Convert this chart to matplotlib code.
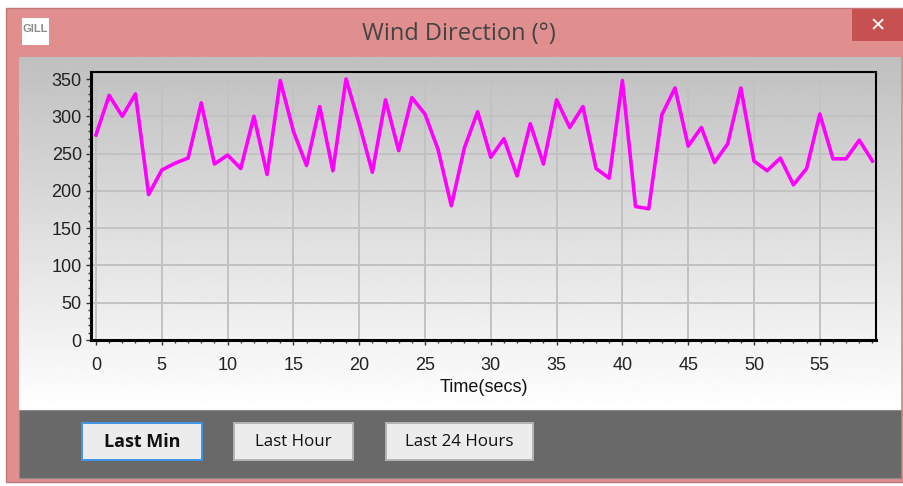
import matplotlib
matplotlib.use("Agg")
import matplotlib.pyplot as plt
from matplotlib.patches import Rectangle
import numpy as np

W, H = 904, 486

seconds = list(range(60))
direction = [275, 328, 300, 330, 195, 228, 237, 244, 318, 236,
             248, 230, 300, 222, 348, 280, 234, 313, 227, 350,
             290, 225, 322, 254, 325, 303, 255, 180, 258, 306,
             245, 270, 220, 290, 236, 322, 285, 313, 230, 217,
             348, 179, 176, 302, 338, 260, 285, 238, 263, 338,
             240, 227, 244, 208, 230, 303, 243, 243, 268, 240]
x_ticks = list(range(0, 60, 5))
y_ticks = list(range(0, 351, 50))
button_labels = ["Last Min", "Last Hour", "Last 24 Hours"]

plt.rcParams["font.family"] = ["Liberation Sans", "DejaVu Sans"]

fig = plt.figure(figsize=(W / 100, H / 100), dpi=100, facecolor="white")

# window chrome, drawn in pixel coordinates
bg = fig.add_axes([0, 0, 1, 1], zorder=0)
bg.set_xlim(0, W)
bg.set_ylim(H, 0)
bg.axis("off")
bg.add_patch(Rectangle((6, 8), 898, 474, fc="#e08e8e", ec="#c07878", lw=1))
bg.add_patch(Rectangle((852, 9), 51, 32, fc="#c75050", ec="none"))
bg.text(878, 26, "\u2715", color="white", fontsize=14, ha="center", va="center",
        family=["DejaVu Sans"], fontweight="bold")
bg.text(459, 34, "Wind Direction (\u00b0)", color="#444444", fontsize=17, ha="center",
        va="center", family=["Open Sans"])

# little icon in the title bar
bg.add_patch(Rectangle((22, 18), 27, 27, fc="white", ec="none"))
bg.text(35.5, 29, "GILL", color="#8c8c8c", fontsize=8, fontweight="bold", ha="center", va="center")

# gradient panel behind the chart
gradient = np.linspace(0.75, 1.0, 256).reshape(-1, 1)
bg.imshow(gradient, cmap="gray", vmin=0, vmax=1, extent=(19, 901, 410, 58), aspect="auto", zorder=1)
bg.set_xlim(0, W)
bg.set_ylim(H, 0)

# button bar
bg.add_patch(Rectangle((19, 410), 882, 68, fc="#696969", ec="#8a8a8a", lw=0.8, zorder=2))
buttons = [(82, 120, "#3f95e6"), (234, 119, "#b5b5b5"), (386, 147, "#b5b5b5")]
sizes = [13, 12.2, 12.2]
for (bx, bw, edge), label, bold, size in zip(buttons, button_labels, [True, False, False], sizes):
    bg.add_patch(Rectangle((bx, 423), bw, 37, fc="#ececec", ec=edge, lw=1.4, zorder=3))
    bg.text(bx + bw / 2, 442, label, color="#111111", fontsize=size, ha="center", va="center",
            family=["Open Sans"], fontweight="bold" if bold else "normal", zorder=4)

# chart axes: x=0 at px 96, 13.16 px/sec; y=0 at px 340, 0.7457 px/unit
left, right, top, bottom = 91, 876, 72, 340
ax = fig.add_axes([left / W, 1 - bottom / H, (right - left) / W, (bottom - top) / H], zorder=1)
ax.patch.set_alpha(0)
ax.set_xlim((left - 96) / 13.16, (right - 96) / 13.16)
ax.set_ylim(0, (bottom - top) / 0.7457)

ax.grid(True, color="#c2c2c2", lw=1.4)
ax.set_axisbelow(True)
ax.plot(seconds, direction, color="#ff00ff", lw=2.6)

ax.set_xticks(x_ticks)
ax.set_yticks(y_ticks)
ax.set_xticks(seconds, minor=True)
ax.set_yticks(range(0, 351, 10), minor=True)
ax.tick_params(axis="both", which="major", length=3.6, width=1, color="#333333",
               labelsize=13, labelcolor="#222222", pad=3)
ax.tick_params(axis="x", which="major", pad=8.5)
ax.tick_params(axis="both", which="minor", length=2, width=1, color="#333333")
ax.set_xlabel("Time(secs)", fontsize=13, color="#111111", labelpad=3.5)

ax.spines["left"].set_linewidth(2.2)
ax.spines["bottom"].set_linewidth(2.2)
ax.spines["top"].set_linewidth(1.5)
ax.spines["right"].set_linewidth(1.5)

fig.savefig("out.png", dpi=100)
